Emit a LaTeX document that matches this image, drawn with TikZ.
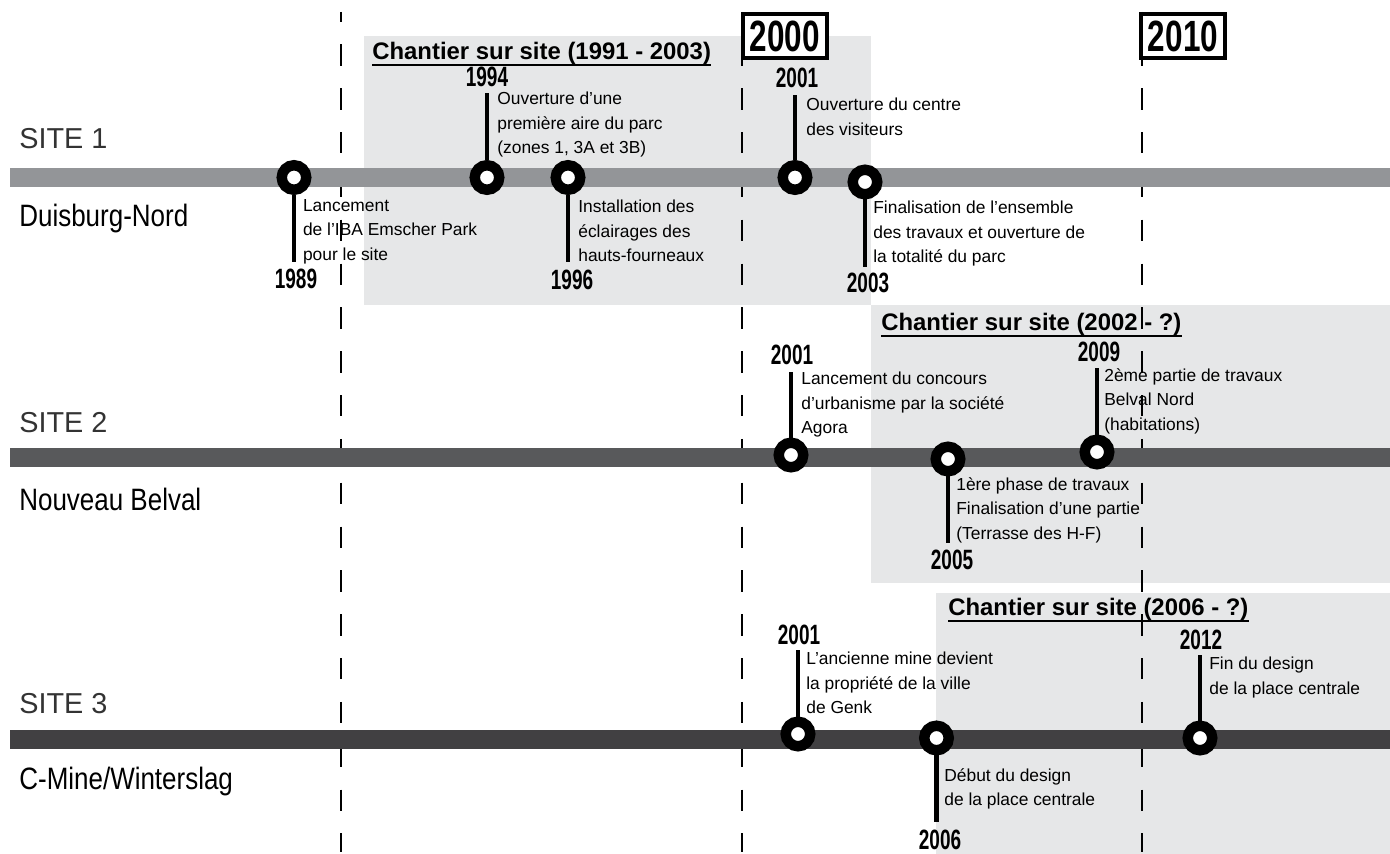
\documentclass[tikz,border=0pt]{standalone}
\usepackage{fontspec}
\setmainfont{Liberation Sans}
\newfontfamily\narrowfont[FakeStretch=0.84]{Liberation Sans}
\newfontfamily\yearfont[FakeStretch=0.68]{Liberation Sans}
\newfontfamily\decadefont[FakeStretch=0.72]{Liberation Sans}

\definecolor{boxgray}{HTML}{E6E7E8}
\definecolor{bargrayA}{HTML}{939598}
\definecolor{bargrayB}{HTML}{58595B}
\definecolor{bargrayC}{HTML}{414042}

\tikzset{
  evt/.style={circle, draw=black, fill=white, line width=5.95pt, minimum size=0.49cm, inner sep=0pt},
  stem/.style={line width=2.83pt},
  yr/.style={inner sep=0pt, font=\yearfont\bfseries\fontsize{15.9pt}{16pt}\selectfont},
  note/.style={anchor=north west, inner sep=0pt, align=left, font=\fontsize{9.9pt}{13.95pt}\selectfont},
  sitelbl/.style={anchor=north west, inner sep=0pt, text=black!80, font=\fontsize{16.4pt}{18pt}\selectfont},
  sitename/.style={anchor=north west, inner sep=0pt, font=\narrowfont\fontsize{17.6pt}{20pt}\selectfont},
  chantier/.style={anchor=north west, inner sep=0pt, font=\bfseries\fontsize{13.6pt}{15pt}\selectfont},
  uline/.style={line width=1.13pt},
  decade/.style={draw=black, fill=white, line width=2.27pt, minimum width=1.68cm, minimum height=0.88cm, inner sep=0pt, font=\decadefont\bfseries\fontsize{24.9pt}{26pt}\selectfont},
  guide/.style={line width=0.85pt, dash pattern=on 12.19pt off 12.76pt, dash phase=6.52pt},
  bar/.style={line width=0.38cm}
}

\begin{document}
\begin{tikzpicture}[x=0.02cm, y=-0.02cm]
    \useasboundingbox (0,0) rectangle (1390,854);

    % chantier areas
    \fill[boxgray] (364,36) rectangle (871,305);
    \fill[boxgray] (871,305) rectangle (1390,583);
    \fill[boxgray] (936,593) rectangle (1390,854);

    % decade guides
    \foreach \x in {341,742,1142}
        \draw[guide] (\x,12) -- (\x,852);

    % timelines
    \draw[bar, bargrayA] (10,177.5) -- (1390,177.5);
    \draw[bar, bargrayB] (10,457.5) -- (1390,457.5);
    \draw[bar, bargrayC] (10,739.5) -- (1390,739.5);

    % site names
    \node[sitelbl] (s1) at (19,128) {SITE 1};
    \node[sitename] (n1) at (19,204) {Duisburg-Nord};
    \node[sitelbl] (s2) at (19,412) {SITE 2};
    \node[sitename] (n2) at (19,488) {Nouveau Belval};
    \node[sitelbl] (s3) at (19,693) {SITE 3};
    \node[sitename] (n3) at (19,767) {C-Mine/Winterslag};

    % chantier headings
    \node[chantier] (h1) at (372,41.7) {Chantier sur site (1991 - 2003)};
    \draw[uline] (h1.south west) -- (h1.south east);
    \node[chantier] (h2) at (881,313) {Chantier sur site (2002 - ?)};
    \draw[uline] (h2.south west) -- (h2.south east);
    \node[chantier] (h3) at (948,598) {Chantier sur site (2006 - ?)};
    \draw[uline] (h3.south west) -- (h3.south east);

    % site 1 events
    \node[evt] (e1) at (294,177.5) {};
    \coordinate (e1s) at (294,262);
    \draw[stem] (e1) -- (e1s);
    \node[yr, anchor=north] (y1) at (296,269) {1989};
    \node[note] (t1) at (302.7,199) {Lancement\\de l’IBA Emscher Park\\pour le site};

    \node[evt] (e2) at (487,177.5) {};
    \coordinate (e2s) at (487,93);
    \draw[stem] (e2) -- (e2s);
    \node[yr, anchor=south] (y2) at (487,87) {1994};
    \node[note] (t2) at (497,92) {Ouverture d’une\\première aire du parc\\(zones 1, 3A et 3B)};

    \node[evt] (e3) at (568,177.5) {};
    \coordinate (e3s) at (568,262);
    \draw[stem] (e3) -- (e3s);
    \node[yr, anchor=north] (y3) at (572,270) {1996};
    \node[note] (t3) at (578,200) {Installation des\\éclairages des\\hauts-fourneaux};

    \node[evt] (e4) at (795,177.5) {};
    \coordinate (e4s) at (795,95);
    \draw[stem] (e4) -- (e4s);
    \node[yr, anchor=south] (y4) at (797,88) {2001};
    \node[note] (t4) at (806,98) {Ouverture du centre\\des visiteurs};

    \node[evt] (e5) at (865,182) {};
    \coordinate (e5s) at (865,267);
    \draw[stem] (e5) -- (e5s);
    \node[yr, anchor=north] (y5) at (868,273) {2003};
    \node[note] (t5) at (873,201) {Finalisation de l’ensemble\\des travaux et ouverture de\\la totalité du parc};

    % site 2 events
    \node[evt] (e6) at (791,455) {};
    \coordinate (e6s) at (791,372);
    \draw[stem] (e6) -- (e6s);
    \node[yr, anchor=south] (y6) at (792,365) {2001};
    \node[note] (t6) at (801,372) {Lancement du concours\\d’urbanisme par la société\\Agora};

    \node[evt] (e7) at (948,459) {};
    \coordinate (e7s) at (948,543);
    \draw[stem] (e7) -- (e7s);
    \node[yr, anchor=north] (y7) at (952,550) {2005};
    \node[note] (t7) at (956,477) {1ère phase de travaux\\Finalisation d’une partie\\(Terrasse des H-F)};

    \node[evt] (e8) at (1097,452) {};
    \coordinate (e8s) at (1097,368);
    \draw[stem] (e8) -- (e8s);
    \node[yr, anchor=south] (y8) at (1099,362) {2009};
    \node[note] (t8) at (1104,368) {2ème partie de travaux\\Belval Nord\\(habitations)};

    % site 3 events
    \node[evt] (e9) at (798,734) {};
    \coordinate (e9s) at (798,650);
    \draw[stem] (e9) -- (e9s);
    \node[yr, anchor=south] (y9) at (799,645) {2001};
    \node[note] (t9) at (806,652) {L’ancienne mine devient\\la propriété de la ville\\de Genk};

    \node[evt] (e10) at (936.5,738) {};
    \coordinate (e10s) at (936.5,822);
    \draw[stem] (e10) -- (e10s);
    \node[yr, anchor=north] (y10) at (940,830) {2006};
    \node[note] (t10) at (944,768) {Début du design\\de la place centrale};

    \node[evt] (e11) at (1200,738) {};
    \coordinate (e11s) at (1200,655);
    \draw[stem] (e11) -- (e11s);
    \node[yr, anchor=south] (y11) at (1201,650) {2012};
    \node[note] (t11) at (1209,657) {Fin du design\\de la place centrale};

    % decades
    \node[decade] (d1) at (785,36) {2000};
    \node[decade] (d2) at (1183,36) {2010};
\end{tikzpicture}
\end{document}
